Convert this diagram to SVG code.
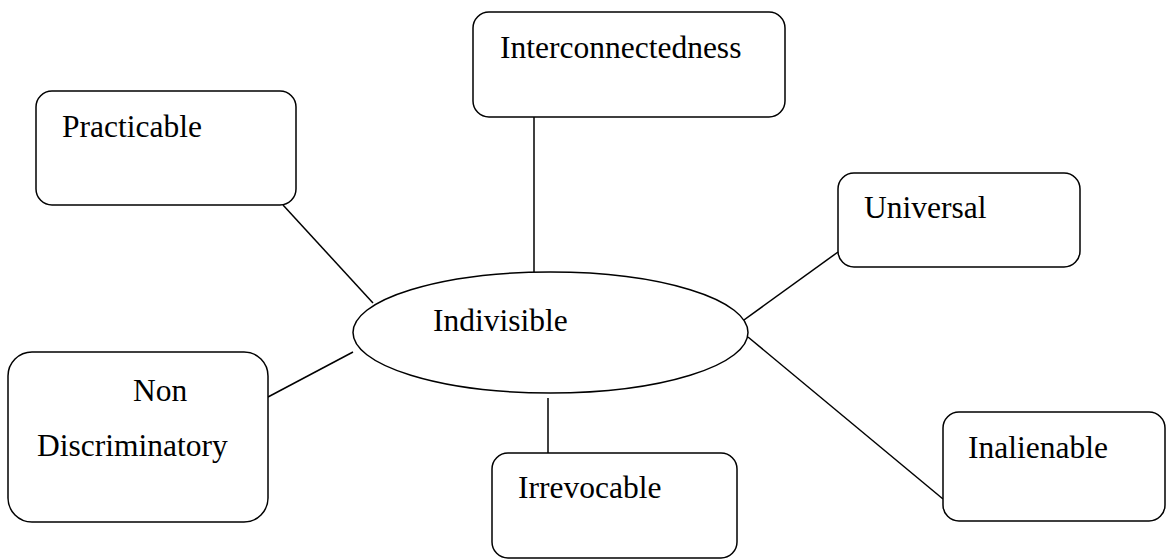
<svg xmlns="http://www.w3.org/2000/svg" width="1166" height="559" viewBox="0 0 1166 559">
  <style>
    .box { fill: #ffffff; stroke: #000000; stroke-width: 1.5; }
    .link { stroke: #000000; stroke-width: 1.5; fill: none; }
    .label { font-family: "Liberation Serif", "Times New Roman", serif; font-size: 31.5px; fill: #000000; }
  </style>
  <rect width="1166" height="559" fill="#ffffff"/>

  <!-- connectors from the central ellipse to each surrounding box -->
  <g id="connectors">
    <line class="link" x1="534" y1="117" x2="534" y2="272"/>
    <line class="link" x1="283" y1="205" x2="373" y2="303"/>
    <line class="link" x1="838" y1="252" x2="737" y2="325"/>
    <line class="link" x1="748" y1="337" x2="943" y2="499"/>
    <line class="link" x1="268" y1="397" x2="353" y2="352"/>
    <line class="link" x1="548" y1="398" x2="548" y2="453"/>
  </g>

  <g id="node-indivisible">
    <ellipse class="box" cx="550.5" cy="332.5" rx="197.5" ry="60.5"/>
    <text class="label" x="433" y="331">Indivisible</text>
  </g>

  <g id="node-interconnectedness">
    <rect class="box" x="473" y="12" width="312" height="105" rx="16" ry="16"/>
    <text class="label" x="500" y="58">Interconnectedness</text>
  </g>

  <g id="node-practicable">
    <rect class="box" x="36" y="91" width="260" height="114" rx="16" ry="16"/>
    <text class="label" x="62" y="137">Practicable</text>
  </g>

  <g id="node-universal">
    <rect class="box" x="838" y="173" width="242" height="94" rx="16" ry="16"/>
    <text class="label" x="864" y="218">Universal</text>
  </g>

  <g id="node-inalienable">
    <rect class="box" x="943" y="412" width="222" height="109" rx="16" ry="16"/>
    <text class="label" x="968" y="458">Inalienable</text>
  </g>

  <g id="node-non-discriminatory">
    <rect class="box" x="8" y="352" width="260" height="170" rx="24" ry="24"/>
    <text class="label" x="133" y="401">Non</text>
    <text class="label" x="37" y="456">Discriminatory</text>
  </g>

  <g id="node-irrevocable">
    <rect class="box" x="492" y="453" width="245" height="105" rx="16" ry="16"/>
    <text class="label" x="518" y="498">Irrevocable</text>
  </g>
</svg>
